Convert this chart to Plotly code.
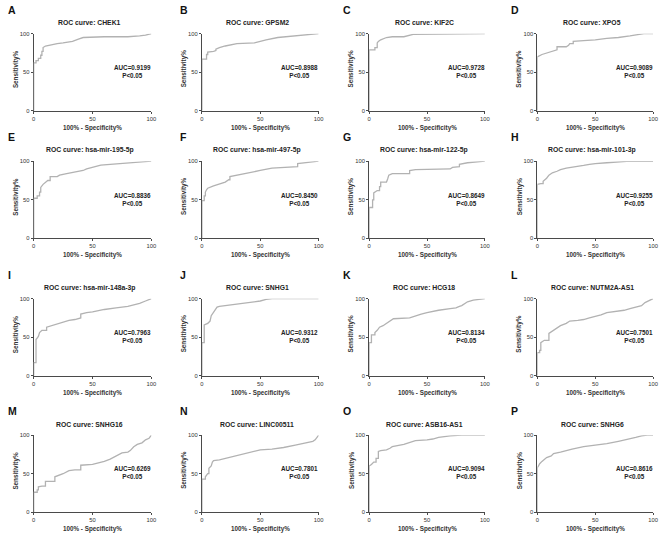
import plotly.graph_objects as go

# ---------------- data ----------------
panel_letters = list("ABCDEFGHIJKLMNOP")
gene_names = ["CHEK1", "GPSM2", "KIF2C", "XPO5",
              "hsa-mir-195-5p", "hsa-mir-497-5p", "hsa-mir-122-5p", "hsa-mir-101-3p",
              "hsa-mir-148a-3p", "SNHG1", "HCG18", "NUTM2A-AS1",
              "SNHG16", "LINC00511", "ASB16-AS1", "SNHG6"]
auc_values = ["0.9199", "0.8988", "0.9728", "0.9089",
              "0.8836", "0.8450", "0.8649", "0.9255",
              "0.7963", "0.9312", "0.8134", "0.7501",
              "0.6269", "0.7801", "0.9094", "0.8616"]
p_text = "P&lt;0.05"
tick_vals = [0, 50, 100]
tick_text = ["0", "50", "100"]

fpr_A = [0,0,2,2,4,4,6,6,7,7,8,8,10,15,20,25,30,33,38,42,60,80,90,95,100]
tpr_A = [0,62,62,65,65,68,68,72,72,77,77,82,84,86,87,88,89,90,93,95,96,96,97,98,100]
fpr_B = [0,0,4,4,5,5,10,12,12,15,20,25,30,45,50,55,65,80,90,100]
tpr_B = [0,67,67,73,73,76,77,78,80,82,84,86,87,88,90,92,95,97,99,100]
fpr_C = [0,0,5,5,7,7,8,10,15,20,30,35,38,60,100]
tpr_C = [0,79,79,82,82,88,90,92,95,96,96,98,99,99.5,100]
fpr_D = [0,0,4,10,15,17,17,25,27,28,31,31,40,50,60,70,80,88,92,100]
tpr_D = [0,70,73,76,79,79,83,83,85,87,87,90,91,92,94,95,97,99,100,100]
fpr_E = [0,0,3,3,5,5,6,6,8,10,12,14,14,20,22,28,35,42,45,50,53,57,65,75,85,92,100]
tpr_E = [0,52,52,55,55,60,60,66,70,73,75,75,80,80,82,84,86,88,90,92,94,95,96,97,98,99,100]
fpr_F = [0,0,2,2,3,3,4,5,10,15,20,23,24,24,30,40,50,60,70,80,82,82,90,100]
tpr_F = [0,49,49,55,55,60,63,65,68,70,73,76,76,80,82,85,88,91,92,93,93,97,98,100]
fpr_G = [0,0,3,3,4,4,7,9,9,10,10,15,16,17,20,35,35,40,70,72,78,78,85,95,100]
tpr_G = [0,40,40,50,50,59,62,62,67,67,73,73,77,82,84,84,88,89,90,92,93,96,98,99,100]
fpr_H = [0,0,3,5,5,8,10,13,17,20,25,30,35,40,45,50,60,70,80,100]
tpr_H = [0,70,71,71,74,78,82,85,87,89,91,92,93,94.5,96,97,98,99,100,100]
fpr_I = [0,0,2,2,4,5,7,11,11,15,20,25,30,35,40,40,45,50,55,60,70,80,85,90,95,100]
tpr_I = [0,17,17,47,51,56,59,59,63,65,67,70,72,73,75,80,82,83,85,86,88,90,92,94,97,100]
fpr_J = [0,0,2,2,5,7,8,10,12,13,15,20,25,30,40,45,50,55,60,100]
tpr_J = [0,43,43,66,68,71,78,82,86,89,90,91,92,93,94.5,96,97,99,100,100]
fpr_K = [0,0,2,2,5,5,7,9,12,15,18,21,35,40,45,50,55,60,70,75,78,80,85,90,95,100]
tpr_K = [0,43,43,53,53,56,59,63,65,68,71,74,75,78,80,82,84,85,87,88,90,91,96,98,99,100]
fpr_L = [0,0,2,2,3,3,6,10,10,12,15,18,20,25,28,35,40,45,50,55,60,65,70,75,80,85,90,93,97,100]
tpr_L = [0,30,30,33,33,43,46,46,55,57,60,63,65,68,71,72,73,75,77,79,82,83,84,85,87,89,91,95,98,100]
fpr_M = [0,0,3,3,4,4,7,10,10,18,18,20,25,30,35,40,40,50,55,60,65,70,75,80,82,85,88,92,95,98,100]
tpr_M = [0,26,26,29,29,33,34,34,40,40,46,47,50,54,55,55,61,62,64,66,69,73,77,78,80,85,88,90,94,96,100]
fpr_N = [0,0,3,3,5,6,6,8,9,10,15,20,30,40,50,60,70,80,90,95,97,100]
tpr_N = [0,43,43,46,50,50,57,60,65,67,68,70,74,77,81,82,84,87,90,92,94,100]
fpr_O = [0,0,2,4,6,6,8,8,10,15,18,20,30,35,40,50,55,60,70,80,100]
tpr_O = [0,60,62,65,65,70,70,79,80,81,83,85,88,91,93,94,95,97,99,100,100]
fpr_P = [0,0,1,2,4,6,8,12,14,20,30,40,50,60,70,80,85,90,95,100]
tpr_P = [0,58,60,63,66,69,71,73,76,78,82,85,87,89,92,95,97,99,100,100]

curves = [(fpr_A, tpr_A), (fpr_B, tpr_B), (fpr_C, tpr_C), (fpr_D, tpr_D),
          (fpr_E, tpr_E), (fpr_F, tpr_F), (fpr_G, tpr_G), (fpr_H, tpr_H),
          (fpr_I, tpr_I), (fpr_J, tpr_J), (fpr_K, tpr_K), (fpr_L, tpr_L),
          (fpr_M, tpr_M), (fpr_N, tpr_N), (fpr_O, tpr_O), (fpr_P, tpr_P)]

# ---------------- layout geometry (page pixels) ----------------
W, H = 669, 541
col_px = [(32, 151), (202, 320), (371, 488), (541, 658)]
row_px = [(31, 109), (160, 238), (299, 377), (437, 515)]
letter_x = [4, 178, 343, 512]


def px_x(v):
    return v / W


def px_y(v):
    return 1 - v / H


FONT = "Liberation Sans, Arial, sans-serif"
AXIS_COLOR = "#4a4a4a"
CURVE_COLOR = "#b2b2b2"

fig = go.Figure()
annotations = []
layout_axes = {}

for i in range(16):
    r, c = divmod(i, 4)
    x0, x1 = col_px[c]
    y0, y1 = row_px[r]
    n = "" if i == 0 else str(i + 1)
    xa, ya = "x" + n, "y" + n
    fx, fy = curves[i]
    fig.add_trace(go.Scatter(x=fx, y=fy, mode="lines", xaxis=xa, yaxis=ya,
                             line=dict(color=CURVE_COLOR, width=1.3),
                             showlegend=False, hoverinfo="skip"))
    common = dict(range=[0, 100], tickvals=tick_vals, ticktext=tick_text,
                  showgrid=False, zeroline=False, showline=True,
                  linecolor=AXIS_COLOR, linewidth=1, ticks="outside",
                  ticklen=2, tickwidth=1, tickcolor=AXIS_COLOR,
                  tickfont=dict(family=FONT, size=5.8, color="#333"),
                  layer="below traces", fixedrange=True)
    layout_axes["xaxis" + n] = dict(common, domain=[px_x(x0), px_x(x1)], anchor=ya)
    layout_axes["yaxis" + n] = dict(common, domain=[px_y(y1), px_y(y0)], anchor=xa)

    cx = (x0 + x1) / 2
    cy = (y0 + y1) / 2
    # title
    annotations.append(dict(text="<b>ROC curve: %s</b>" % gene_names[i],
                            xref="paper", yref="paper", x=px_x(cx - 3), y=px_y(y0 - 11),
                            xanchor="center", yanchor="middle", showarrow=False,
                            font=dict(family=FONT, size=6.8, color="#222")))
    # panel letter
    annotations.append(dict(text="<b>%s</b>" % panel_letters[i],
                            xref="paper", yref="paper", x=px_x(letter_x[c]),
                            y=px_y(max(y0 - 24, 7)),
                            xanchor="left", yanchor="middle", showarrow=False,
                            font=dict(family=FONT, size=10.5, color="#111")))
    # axis titles
    annotations.append(dict(text="<b>100% - Specificity%</b>",
                            xref="paper", yref="paper", x=px_x(cx), y=px_y(y1 + 17),
                            xanchor="center", yanchor="middle", showarrow=False,
                            font=dict(family=FONT, size=6.3, color="#333")))
    annotations.append(dict(text="<b>Sensitivity%</b>", textangle=-90,
                            xref="paper", yref="paper", x=px_x(x0 - 18), y=px_y(cy - 3),
                            xanchor="center", yanchor="middle", showarrow=False,
                            font=dict(family=FONT, size=6.3, color="#333")))
    # AUC text
    annotations.append(dict(text="<b>AUC=%s<br>%s</b>" % (auc_values[i], p_text),
                            xref=xa, yref=ya, x=84, y=51,
                            xanchor="center", yanchor="middle", showarrow=False,
                            font=dict(family=FONT, size=6.3, color="#222")))

fig.update_layout(width=W, height=H, margin=dict(l=0, r=0, t=0, b=0),
                  paper_bgcolor="white", plot_bgcolor="white",
                  annotations=annotations, **layout_axes)

fig.write_html("out.html", config={"displayModeBar": False},
               post_script="document.body.style.margin='0px';")
